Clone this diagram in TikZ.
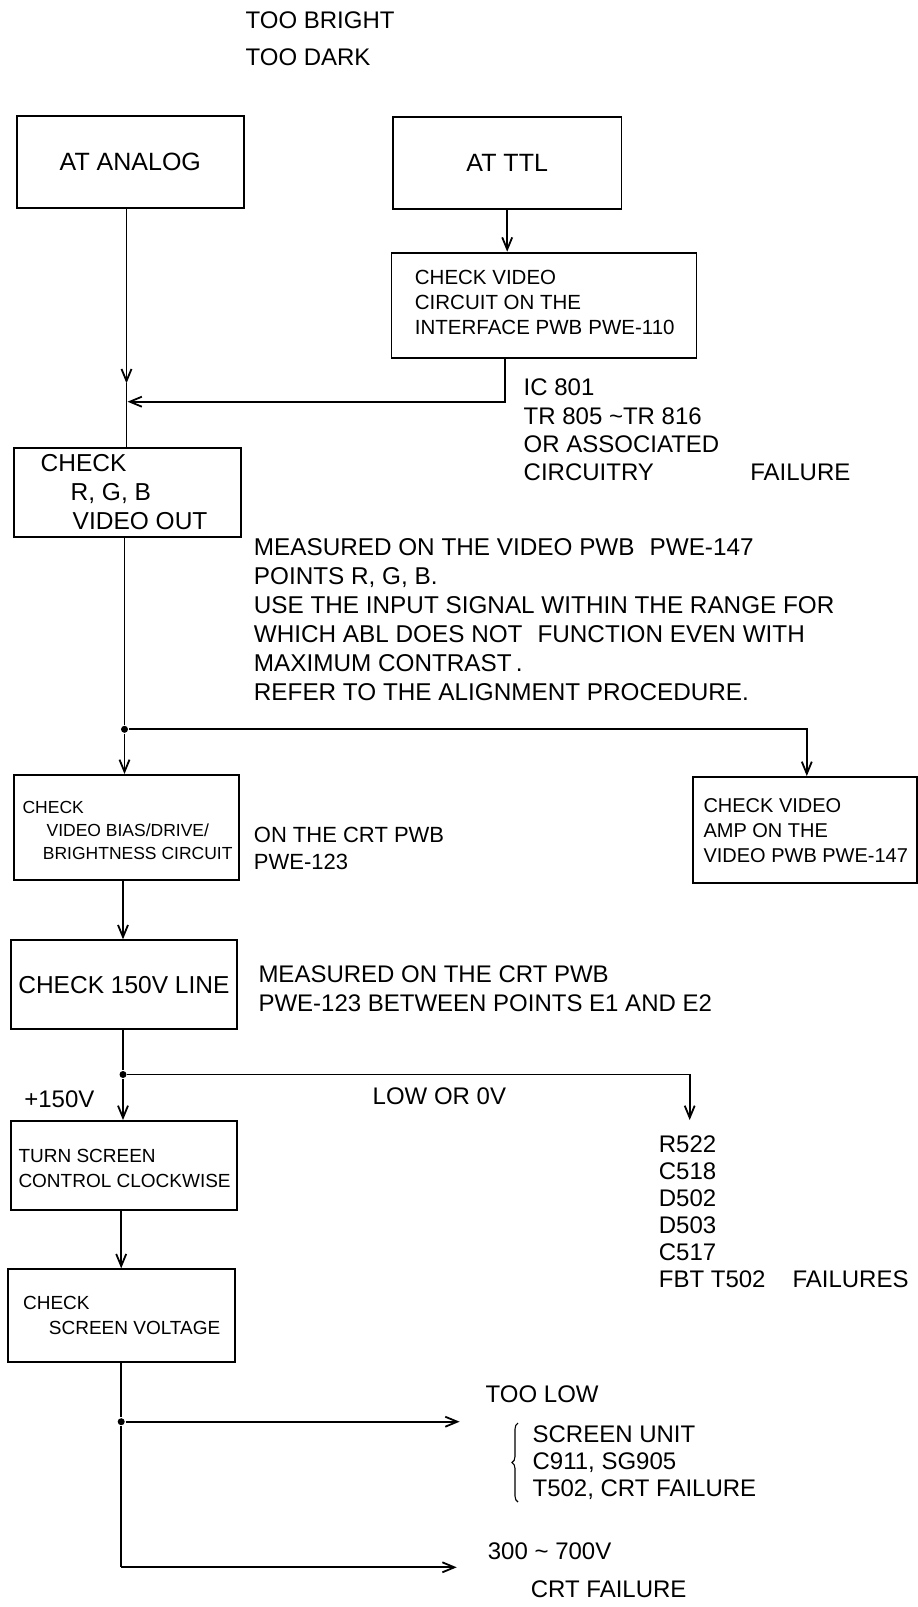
\documentclass[tikz,border=0pt]{standalone}
\usepackage{fontspec}
\setmainfont{Liberation Sans}
\usetikzlibrary{arrows.meta,decorations.pathreplacing,calc}
\begin{document}
\begin{tikzpicture}[x=1pt,y=-1pt,line width=1.8pt,
  box/.style={draw,line width=1.8pt,inner sep=0pt,anchor=north west},
  txt/.style={anchor=north west,inner sep=0pt,align=left},
  arr/.style={-{Straight Barb[length=12pt,width=10pt]}},
  dot/.style={circle,fill,inner sep=0pt,minimum size=7pt}]
\useasboundingbox (0,0) rectangle (918,1607);
% title
\node[txt,font=\fontsize{24}{36.7}\selectfont] (title) at (244.7,10.9) {TOO BRIGHT\\TOO DARK};
% boxes
\node[box,minimum width=227.2pt,minimum height=91.7pt,font=\fontsize{25}{30}\selectfont] (analog) at (15.8,115) {AT ANALOG};
\node[box,minimum width=228.6pt,minimum height=92pt,font=\fontsize{25}{30}\selectfont] (ttl) at (392,116) {AT TTL};
\node[box,minimum width=305pt,minimum height=105.6pt] (iface) at (390.5,251.7) {};
\node[txt,font=\fontsize{20.5}{25}\selectfont] (ifacet) at (414,269.5) {CHECK VIDEO\\CIRCUIT ON THE\\INTERFACE PWB\hspace{6pt}PWE-110};
\node[txt,font=\fontsize{24}{28.3}\selectfont] (ic) at (522.8,378.3) {IC 801\\TR 805 \textasciitilde TR 816\\OR ASSOCIATED\\CIRCUITRY};
\node[txt,font=\fontsize{24}{28.3}\selectfont] (fail1) at (749.4,463.3) {FAILURE};
\node[box,minimum width=227.1pt,minimum height=89.3pt] (rgb) at (12.9,446.7) {};
\node[txt,font=\fontsize{24.5}{29.2}\selectfont] (rgbt) at (39.8,453.1) {CHECK\\\hspace*{30pt}R, G, B\\\hspace*{32pt}VIDEO OUT};
\node[txt,font=\fontsize{24.3}{29.1}\selectfont] (meas) at (253,537.5) {MEASURED ON THE VIDEO PWB\hspace{15pt}PWE-147\\POINTS R, G, B.\\USE THE INPUT SIGNAL WITHIN THE RANGE FOR\\WHICH ABL DOES NOT\hspace{15pt}FUNCTION EVEN WITH\\MAXIMUM CONTRAST\,.\\REFER TO THE ALIGNMENT PROCEDURE.};
\node[box,minimum width=225.4pt,minimum height=105.3pt] (bias) at (12.9,774) {};
\node[txt,font=\fontsize{17.5}{23}\selectfont] (biast) at (21.7,800.6) {CHECK\\\hspace*{24pt}VIDEO BIAS/DRIVE/\\\hspace*{20.3pt}BRIGHTNESS CIRCUIT};
\node[txt,font=\fontsize{22}{27.5}\selectfont] (crt) at (253,826) {ON THE CRT PWB\\PWE-123};
\node[box,minimum width=224pt,minimum height=105.7pt] (amp) at (692,776) {};
\node[txt,font=\fontsize{20}{25}\selectfont] (ampt) at (702.6,798) {CHECK VIDEO\\AMP ON THE\\VIDEO PWB PWE-147};
\node[box,minimum width=226pt,minimum height=89pt,font=\fontsize{24.5}{29}\selectfont] (v150) at (10,939.3) {CHECK 150V LINE};
\node[txt,font=\fontsize{24}{29.4}\selectfont] (crt2) at (257.6,964.9) {MEASURED ON THE CRT PWB\\PWE-123 BETWEEN POINTS E1 AND E2};
\node[txt,font=\fontsize{24}{29}\selectfont] (plus) at (23.4,1089.9) {+150V};
\node[txt,font=\fontsize{24}{29}\selectfont] (low) at (371.8,1086.6) {LOW OR 0V};
\node[box,minimum width=226pt,minimum height=89.3pt] (turn) at (10,1120) {};
\node[txt,font=\fontsize{19}{25}\selectfont] (turnt) at (17.6,1148.3) {TURN SCREEN\\CONTROL CLOCKWISE};
\node[txt,font=\fontsize{24}{27}\selectfont] (parts) at (658,1134.6) {R522\\C518\\D502\\D503\\C517\\FBT T502};
\node[txt,font=\fontsize{24}{27}\selectfont] (fail2) at (791.6,1269.6) {FAILURES};
\node[box,minimum width=227pt,minimum height=92.4pt] (scr) at (7,1268.3) {};
\node[txt,font=\fontsize{19}{25.6}\selectfont] (scrt) at (22.2,1295) {CHECK\\\hspace*{25.8pt}SCREEN VOLTAGE};
\node[txt,font=\fontsize{24}{29}\selectfont] (toolow) at (484.8,1384.9) {TOO LOW};
\node[txt,font=\fontsize{24}{27.2}\selectfont] (unit) at (531.7,1424.6) {SCREEN UNIT\\C911, SG905\\T502, CRT FAILURE};
\node[txt,font=\fontsize{24}{29}\selectfont] (range) at (487,1541.6) {300 \textasciitilde{} 700V};
\node[txt,font=\fontsize{24}{29}\selectfont] (crtf) at (530,1580) {CRT FAILURE};
% junctions and coordinates
\node[dot] (j1) at (124.5,729.3) {};
\node[dot] (j2) at (123,1074.5) {};
\node[dot] (j3) at (121.2,1421.7) {};
\coordinate (colA) at (126.5,0);
\coordinate (colB) at (124.5,0);
\coordinate (colC) at (123,0);
\coordinate (colD) at (121.2,0);
\coordinate (aTip) at (126.5,383.3);
\coordinate (mergeR) at (504.7,401.7);
\coordinate (mergeL) at (127.5,401.7);
\coordinate (j1r) at (806.8,729.3);
\coordinate (j2r) at (689.7,1074.5);
\coordinate (j2tip) at (689.7,1120);
\coordinate (j3tip) at (459.6,1421.7);
\coordinate (c4) at (121.2,1567.3);
\coordinate (c4tip) at (456.7,1567.3);
\coordinate (braceB) at (518,1502);
\coordinate (braceT) at (518,1423);
% connectors
\draw[arr] (analog.south -| colA) -- (aTip);
\draw (aTip) -- (rgb.north -| colA);
\draw[arr] (ttl.south) -- (iface.north -| ttl.south);
\draw[arr] (iface.south -| mergeR) -- (mergeR) -- (mergeL);
\draw (rgb.south -| colB) -- (j1);
\draw[arr] (j1) -- (bias.north -| j1);
\draw[arr] (j1) -- (j1r) -- (amp.north -| j1r);
\draw[arr] (bias.south -| colC) -- (v150.north -| colC);
\draw (v150.south -| colC) -- (j2);
\draw[arr] (j2) -- (turn.north -| j2);
\draw[arr] (j2) -- (j2r) -- (j2tip);
\draw[arr] (turn.south -| colD) -- (scr.north -| colD);
\draw (scr.south -| colD) -- (j3);
\draw[arr] (j3) -- (j3tip);
\draw (j3) -- (c4);
\draw[arr] (c4) -- (c4tip);
\draw[line width=1.1pt,decorate,decoration={brace,amplitude=6pt}] (braceB) -- (braceT);
\end{tikzpicture}
\end{document}
